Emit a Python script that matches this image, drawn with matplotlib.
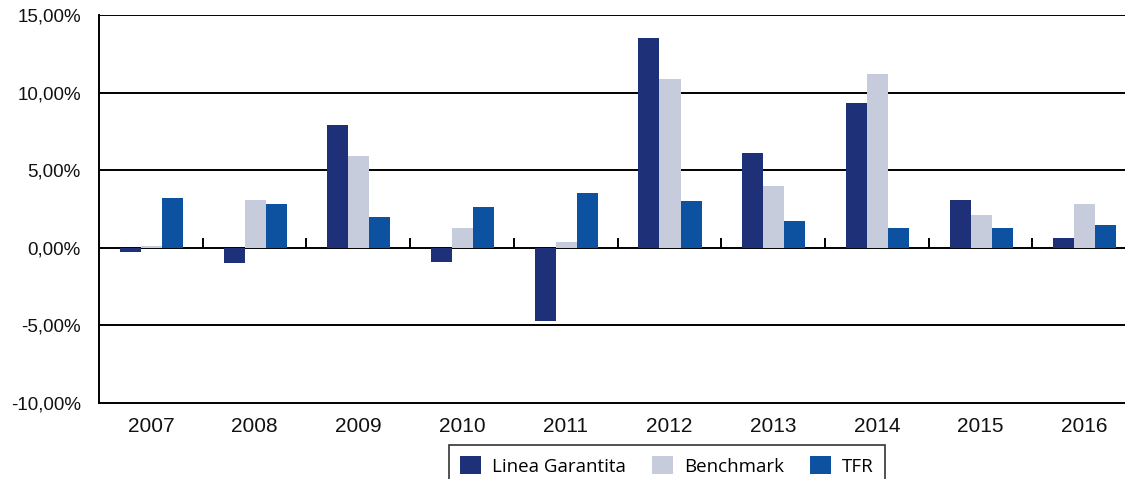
import numpy as np
import matplotlib
matplotlib.use("Agg")
import matplotlib.pyplot as plt
from matplotlib.ticker import FuncFormatter

years = ["2007", "2008", "2009", "2010", "2011", "2012", "2013", "2014", "2015", "2016"]
linea_garantita = [-0.3, -1.0, 7.9, -0.9, -4.7, 13.5, 6.1, 9.3, 3.1, 0.6]
benchmark = [0.1, 3.1, 5.9, 1.3, 0.4, 10.9, 4.0, 11.2, 2.1, 2.8]
tfr = [3.2, 2.8, 2.0, 2.6, 3.5, 3.0, 1.7, 1.3, 1.3, 1.5]

series = [
    ("Linea Garantita", linea_garantita, "#1e3178"),
    ("Benchmark", benchmark, "#c6ccdc"),
    ("TFR", tfr, "#0c52a0"),
]

plt.rcParams["font.family"] = ["Liberation Sans", "DejaVu Sans"]

fig = plt.figure(figsize=(11.25, 4.79), dpi=100)
# the plot area runs slightly past the right edge of the figure
ax = fig.add_axes([0.088, 0.1587, 0.9218, 0.81])

x = np.arange(len(years))
width = 0.203
for i, (name, vals, color) in enumerate(series):
    ax.bar(x + (i - 1) * width + 0.006, vals, width, color=color, label=name, zorder=3)

ax.set_xlim(-0.5, len(years) - 0.5)
ax.set_ylim(-10, 15)
ax.set_yticks(np.arange(-10, 16, 5))
ax.yaxis.set_major_formatter(FuncFormatter(lambda v, p: f"{v:.2f}%".replace(".", ",")))
ax.set_xticks(x)
ax.set_xticklabels(years)

# horizontal grid, zero line included
for v in np.arange(-5, 16, 5):
    ax.axhline(v, color="black", lw=1.4, zorder=2)

# small separators between the years on the zero line
ax.vlines(np.arange(-0.5, len(years) - 0.5), 0, 0.6, color="black", lw=1.4, zorder=2)

for side in ("top", "right"):
    ax.spines[side].set_visible(False)
for side in ("left", "bottom"):
    ax.spines[side].set_linewidth(1.4)
    ax.spines[side].set_color("black")

ax.tick_params(axis="both", length=0, colors="#111111")
ax.tick_params(axis="y", pad=13, labelsize=13.5)
ax.tick_params(axis="x", pad=10, labelsize=15)

leg = fig.legend(loc="upper center", bbox_to_anchor=(0.593, 0.071), ncol=3,
                 frameon=True, fancybox=False, edgecolor="black",
                 prop={"family": "Open Sans", "size": 13.5},
                 handlelength=1.1, handleheight=1.1, columnspacing=1.4,
                 handletextpad=0.6, borderpad=0.6, borderaxespad=0)
leg.get_frame().set_linewidth(1.2)

fig.savefig("out.png", dpi=100)
